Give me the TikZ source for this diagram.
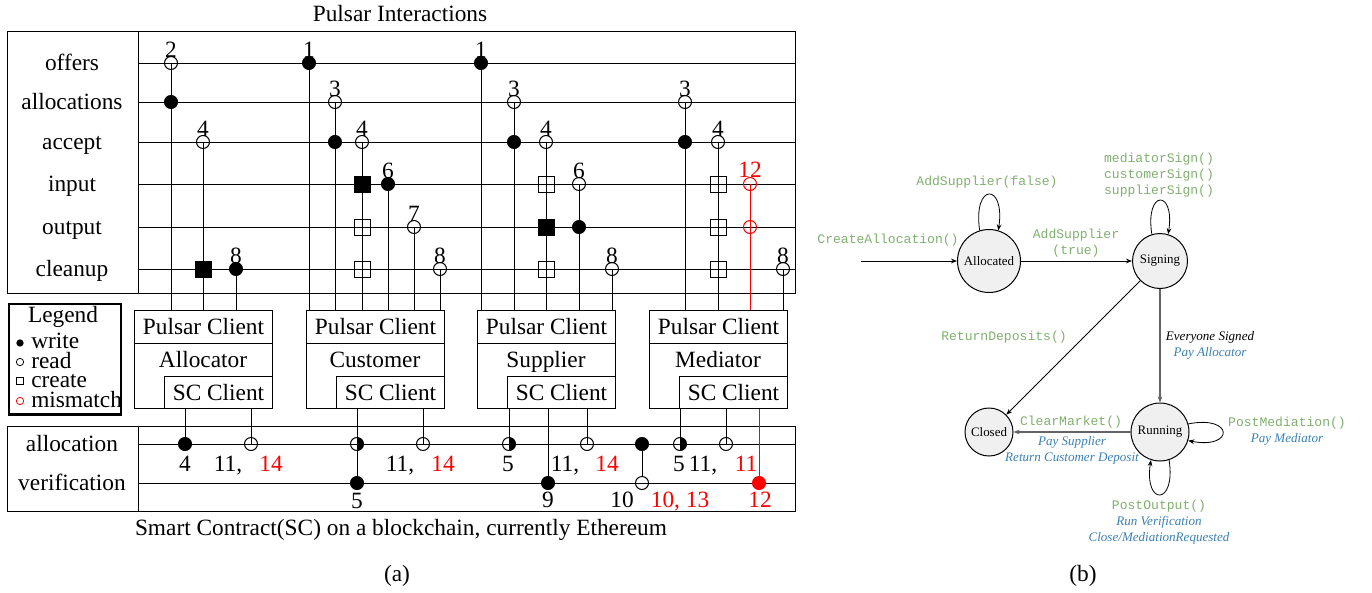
\documentclass[tikz,border=0pt]{standalone}
\usepackage{fontspec}
\setmainfont{Liberation Serif}
\setmonofont{Liberation Mono}
\usetikzlibrary{arrows.meta}
\definecolor{fgreen}{RGB}{128,176,110}
\definecolor{fblue}{RGB}{58,128,180}
\definecolor{egray}{RGB}{100,100,100}
\begin{document}
\begin{tikzpicture}[x=0.75pt,y=-0.75pt,
  every node/.style={inner sep=0pt, font=\fontsize{17.5}{20}\selectfont},
  ln/.style={line width=0.75pt},
  mk/.style={minimum size=9.75pt, inner sep=0pt, line width=0.75pt},
  wr/.style={mk, circle, draw, fill=black},
  rd/.style={mk, circle, draw},
  mis/.style={mk, circle, draw=red},
  misw/.style={mk, circle, draw=red, fill=red},
  cr/.style={mk, rectangle, draw, minimum size=12pt},
  crf/.style={cr, fill=black},
  hf/.style={mk, circle, draw, path picture={\fill[black] (path picture bounding box.north) rectangle (path picture bounding box.south east);}},
  num/.style={anchor=base},
  rnum/.style={anchor=base, text=red},
  rowlab/.style={anchor=base},
  client/.style={draw, line width=0.75pt, minimum width=103.5pt, minimum height=73.5pt, anchor=north west},
  pbar/.style={draw, line width=0.75pt, minimum width=103.5pt, minimum height=24.75pt, anchor=north west},
  scbox/.style={draw, line width=0.75pt, minimum width=81pt, minimum height=24pt, anchor=south east},
  lgm/.style={inner sep=0pt, minimum size=5.5pt, line width=0.6pt},
  st/.style={circle, draw, fill=black!6, line width=0.75pt, font=\fontsize{9.7}{11}\selectfont},
  mono/.style={font=\fontsize{9.8}{12}\selectfont\ttfamily, text=fgreen, align=center},
  act/.style={font=\fontsize{9.8}{12}\selectfont\itshape, text=fblue, align=center},
  arr/.style={-{Stealth[length=4.5pt,width=3.5pt]}, line width=0.6pt},
  garr/.style={-{Stealth[length=4.5pt,width=3.5pt]}, draw=egray, line width=1.3pt},
]
\useasboundingbox (0,0) rectangle (1372,593);

% ---------------- (a) top box ----------------
\node[anchor=base] (title) at (400,21) {Pulsar Interactions};
\draw[ln] (7,31) rectangle (795,293);
\draw[ln] (138,31) -- (138,293);
\draw[ln] (138,63) -- (795,63);
\draw[ln] (138,102) -- (795,102);
\draw[ln] (138,142) -- (795,142);
\draw[ln] (138,184) -- (795,184);
\draw[ln] (138,227) -- (795,227);
\draw[ln] (138,269) -- (795,269);
\node[rowlab] (rl1) at (72,70.5) {offers};
\node[rowlab] (rl2) at (72,109.5) {allocations};
\node[rowlab] (rl3) at (72,149.5) {accept};
\node[rowlab] (rl4) at (72,191.5) {input};
\node[rowlab] (rl5) at (72,234.5) {output};
\node[rowlab] (rl6) at (72,276.5) {cleanup};

% client boxes
\node[client] (bA) at (134,310) {};
\node[pbar] (pA) at (bA.north west) {Pulsar Client};
\node[scbox] (sA) at (bA.south east) {SC Client};
\node[anchor=base] (nA) at (203,367) {Allocator};
\node[client] (bC) at (306,310) {};
\node[pbar] (pC) at (bC.north west) {Pulsar Client};
\node[scbox] (sC) at (bC.south east) {SC Client};
\node[anchor=base] (nC) at (375,367) {Customer};
\node[client] (bS) at (477,310) {};
\node[pbar] (pS) at (bS.north west) {Pulsar Client};
\node[scbox] (sS) at (bS.south east) {SC Client};
\node[anchor=base] (nS) at (546,367) {Supplier};
\node[client] (bM) at (649,310) {};
\node[pbar] (pM) at (bM.north west) {Pulsar Client};
\node[scbox] (sM) at (bM.south east) {SC Client};
\node[anchor=base] (nM) at (718,367) {Mediator};

% Allocator markers
\node[rd] (a1) at (171,63) {};
\node[wr] (a2) at (171,102) {};
\node[rd] (a3) at (203,142) {};
\node[crf] (a4) at (203,269) {};
\node[wr] (a5) at (236,269) {};
\node[num] (la1) at (171,57) {2};
\node[num] (la3) at (203,136) {4};
\node[num] (la5) at (236,263) {8};
\draw[ln] (a1.center) -- (a1.center |- bA.north);
\draw[ln] (a3.center) -- (a3.center |- bA.north);
\draw[ln] (a5.center) -- (a5.center |- bA.north);

% Customer markers
\node[wr] (c1) at (309,63) {};
\node[rd] (c2) at (335,102) {};
\node[wr] (c3) at (335,142) {};
\node[rd] (c4) at (362,142) {};
\node[crf] (c5) at (362,184) {};
\node[cr] (c6) at (362,227) {};
\node[cr] (c7) at (362,269) {};
\node[wr] (c8) at (388,184) {};
\node[rd] (c9) at (414,227) {};
\node[rd] (c10) at (440,269) {};
\node[num] (lc1) at (309,57) {1};
\node[num] (lc2) at (335,96) {3};
\node[num] (lc4) at (362,136) {4};
\node[num] (lc8) at (388,178) {6};
\node[num] (lc9) at (414,221) {7};
\node[num] (lc10) at (440,263) {8};
\draw[ln] (c1.center) -- (c1.center |- bC.north);
\draw[ln] (c2.center) -- (c2.center |- bC.north);
\draw[ln] (c4.center) -- (c4.center |- bC.north);
\draw[ln] (c8.center) -- (c8.center |- bC.north);
\draw[ln] (c9.center) -- (c9.center |- bC.north);
\draw[ln] (c10.center) -- (c10.center |- bC.north);

% Supplier markers
\node[wr] (s1) at (481,63) {};
\node[rd] (s2) at (514,102) {};
\node[wr] (s3) at (514,142) {};
\node[rd] (s4) at (546,142) {};
\node[cr] (s5) at (546,184) {};
\node[crf] (s6) at (546,227) {};
\node[cr] (s7) at (546,269) {};
\node[rd] (s8) at (579,184) {};
\node[wr] (s9) at (579,227) {};
\node[rd] (s10) at (612,269) {};
\node[num] (ls1) at (481,57) {1};
\node[num] (ls2) at (514,96) {3};
\node[num] (ls4) at (546,136) {4};
\node[num] (ls8) at (579,178) {6};
\node[num] (ls10) at (612,263) {8};
\draw[ln] (s1.center) -- (s1.center |- bS.north);
\draw[ln] (s2.center) -- (s2.center |- bS.north);
\draw[ln] (s4.center) -- (s4.center |- bS.north);
\draw[ln] (s8.center) -- (s8.center |- bS.north);
\draw[ln] (s10.center) -- (s10.center |- bS.north);

% Mediator markers
\node[rd] (m2) at (685,102) {};
\node[wr] (m3) at (685,142) {};
\node[rd] (m4) at (718,142) {};
\node[cr] (m5) at (718,184) {};
\node[cr] (m6) at (718,227) {};
\node[cr] (m7) at (718,269) {};
\node[mis] (m8) at (750,184) {};
\node[mis] (m9) at (750,227) {};
\node[rd] (m10) at (783,269) {};
\node[num] (lm2) at (685,96) {3};
\node[num] (lm4) at (718,136) {4};
\node[rnum] (lm8) at (750,177.5) {12};
\node[num] (lm10) at (783,263) {8};
\draw[ln] (m2.center) -- (m2.center |- bM.north);
\draw[ln] (m4.center) -- (m4.center |- bM.north);
\draw[ln, red] (m8.center) -- (m8.center |- bM.north);
\draw[ln] (m10.center) -- (m10.center |- bM.north);

% Legend
\node[draw, line width=2.2pt, minimum width=84pt, minimum height=83pt, anchor=north west] (legend) at (7.5,302.5) {};
\node[anchor=base] (lgt) at (63,322) {Legend};
\node[lgm, circle, fill=black] (lg1) at (20,343) {};
\node[lgm, circle, draw] (lg2) at (20,362) {};
\node[lgm, rectangle, draw] (lg3) at (20,381) {};
\node[lgm, circle, draw=red] (lg4) at (20,401) {};
\node[anchor=north west, align=left, font=\fontsize{17.5}{14.6}\selectfont] (lt) at (31,333) {write\\read\\create\\mismatch};

% ---------------- (a) smart contract box ----------------
\draw[ln] (7,426) rectangle (795,511);
\draw[ln] (138,426) -- (138,511);
\draw[ln] (138,444) -- (795,444);
\draw[ln] (138,483) -- (795,483);
\node[rowlab] (bl1) at (72,451.5) {allocation};
\node[rowlab] (bl2) at (72,490.5) {verification};

% Allocator SC
\node[wr] (ba1) at (185,444) {};
\node[rd] (ba2) at (251,444) {};
\draw[ln] (ba1.center |- sA.south) -- (ba1.center);
\draw[ln] (ba2.center |- sA.south) -- (ba2.center);
\node[num] (lba1) at (185,471) {4};
\node[num] (lba2) at (228,471) {11,};
\node[rnum] (lba3) at (271,471) {14};

% Customer SC
\node[wr] (bc2) at (357,483) {};
\draw[ln] (bc2.center |- sC.south) -- (bc2.center);
\node[hf] (bc1) at (357,444) {};
\node[rd] (bc3) at (423,444) {};
\draw[ln] (bc3.center |- sC.south) -- (bc3.center);
\node[num] (lbc2) at (357,508) {5};
\node[num] (lbc3) at (400,471) {11,};
\node[rnum] (lbc4) at (443,471) {14};

% Supplier SC
\node[hf] (bs1) at (509,444) {};
\node[wr] (bs2) at (548,483) {};
\node[rd] (bs3) at (587,444) {};
\draw[ln] (bs1.center |- sS.south) -- (bs1.center);
\draw[ln] (bs2.center |- sS.south) -- (bs2.center);
\draw[ln] (bs3.center |- sS.south) -- (bs3.center);
\node[num] (lbs1) at (508,471) {5};
\node[num] (lbs2) at (548,507) {9};
\node[num] (lbs3) at (565,471) {11,};
\node[rnum] (lbs4) at (607,471) {14};

% verification result
\node[wr] (bx1) at (642,444) {};
\node[rd] (bx2) at (642,483) {};
\draw[ln] (bx1.center) -- (bx2.north);
\node[num] (lbx1) at (622,507) {10};
\node[rnum] (lbx2) at (680,507) {10, 13};

% Mediator SC
\node[hf] (bm1) at (680,444) {};
\node[rd] (bm2) at (726,444) {};
\node[misw] (bm3) at (759,483) {};
\draw[ln] (bm1.center |- sM.south) -- (bm1.center);
\draw[ln] (bm2.center |- sM.south) -- (bm2.center);
\draw[ln, red] (bm3.center |- sM.south) -- (bm3.center);
\node[num] (lbm1) at (679,471) {5};
\node[num] (lbm2) at (703,471) {11,};
\node[rnum] (lbm3) at (746,471) {11};
\node[rnum] (lbm4) at (760,507) {12};

\node[anchor=base] (cap) at (401,535) {Smart Contract(SC) on a blockchain, currently Ethereum};
\node[anchor=base] (suba) at (397,581) {(a)};

% ---------------- (b) state machine ----------------
\node[st, minimum size=47.25pt] (alc) at (989,261) {Allocated};
\node[st, minimum size=41.25pt] (sig) at (1160,261) {Signing};
\node[st, minimum size=36pt] (clo) at (989,432) {Closed};
\node[st, minimum size=43.5pt] (run) at (1160,432) {Running};

\coordinate (entry) at (861,261);
\draw[arr] (entry) -- (alc);
\node[mono] (lca) at (888,240) {CreateAllocation()};
\draw[arr] (alc.107) .. controls +(-7,-48) and +(7,-48) .. (alc.73);
\node[mono] (lasf) at (987,182) {AddSupplier(false)};
\draw[arr] (alc) -- (sig);
\node[mono] (last) at (1076,243.5) {AddSupplier\\(true)};
\draw[arr] (sig.107) .. controls +(-7,-45) and +(7,-45) .. (sig.73);
\node[mono] (lsg) at (1159,175) {mediatorSign()\\customerSign()\\supplierSign()};
\draw[arr] (sig) -- (clo);
\node[mono] (lrd) at (1004,337) {ReturnDeposits()};
\draw[garr] (sig) -- (run);
\node[align=center, font=\fontsize{9.8}{12}\selectfont\itshape] (les) at (1210,345) {Everyone Signed\\{\color{fblue}Pay Allocator}};
\draw[garr] (run) -- (clo);
\node[mono] (lcm) at (1071,422) {ClearMarket()};
\node[act] (lps) at (1072,450) {Pay Supplier\\Return Customer Deposit};
\draw[arr] (run.16) .. controls +(46,-9) and +(46,9) .. (run.-17);
\node[align=center, font=\fontsize{9.8}{12}\selectfont] (lpm) at (1287,431) {{\ttfamily\color{fgreen}PostMediation()}\\{\itshape\color{fblue}Pay Mediator}};
\draw[arr] (run.-72) .. controls +(7,46) and +(-7,46) .. (run.-108);
\node[align=center, font=\fontsize{9.8}{12}\selectfont] (lpo) at (1159,522) {{\ttfamily\color{fgreen}PostOutput()}\\{\itshape\color{fblue}Run Verification}\\{\itshape\color{fblue}Close/MediationRequested}};

\node[anchor=base] (subb) at (1083,581) {(b)};
\end{tikzpicture}
\end{document}
